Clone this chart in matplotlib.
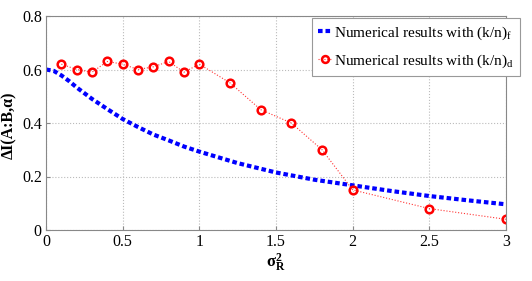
import numpy as np
import matplotlib.pyplot as plt

plt.rcParams['font.family'] = ['Liberation Serif', 'DejaVu Serif']
plt.rcParams['mathtext.fontset'] = 'custom'
plt.rcParams['mathtext.rm'] = 'Liberation Serif'
plt.rcParams['mathtext.bf'] = 'Liberation Serif:bold'
plt.rcParams['mathtext.it'] = 'Liberation Serif:italic'

# blue curve: (k/n)_f
x_f = [0, 0.05, 0.1, 0.15, 0.2, 0.3, 0.4, 0.5, 0.6, 0.7, 0.8, 0.9, 1.0,
       1.25, 1.5, 1.75, 2.0, 2.25, 2.5, 2.75, 3.0]
y_f = [0.60, 0.595, 0.578, 0.557, 0.533, 0.49, 0.452, 0.415, 0.385, 0.357, 0.335, 0.312, 0.293,
       0.25, 0.215, 0.188, 0.167, 0.146, 0.127, 0.111, 0.096]

# red markers: (k/n)_d
x_d = [0.1, 0.2, 0.3, 0.4, 0.5, 0.6, 0.7, 0.8, 0.9, 1.0, 1.2, 1.4, 1.6, 1.8, 2.0, 2.5, 3.0]
y_d = [0.62, 0.60, 0.59, 0.63, 0.62, 0.60, 0.61, 0.63, 0.59, 0.62, 0.55, 0.45, 0.40, 0.30, 0.15, 0.08, 0.04]

xticks = [0, 0.5, 1, 1.5, 2, 2.5, 3]
yticks = [0, 0.2, 0.4, 0.6, 0.8]

fig = plt.figure(figsize=(5.32, 2.81), dpi=100)
ax = fig.add_axes([46/532, 51/281, 460/532, 214/281])

ax.plot(x_f, y_f, color='#0000ff', lw=3, linestyle=(0, (1.1, 0.7)),
        label='Numerical results with (k/n)$_{\\mathrm{f}}$')
ax.plot(x_d, y_d, color='#ff3333', lw=0.8, linestyle=':', marker='o', ms=5.5,
        mfc='none', mec='#ff0000', mew=1.8,
        label='Numerical results with (k/n)$_{\\mathrm{d}}$')

ax.set_xlim(0, 3)
ax.set_ylim(0, 0.8)
ax.set_xticks(xticks)
ax.set_yticks(yticks)
ax.set_xticklabels([f'{t:g}' for t in xticks])
ax.set_yticklabels([f'{t:g}' for t in yticks])
ax.tick_params(direction='in', labelsize=11.5, length=3, color='#888888', pad=3)
ax.grid(True, linestyle=':', color='#bbbbbb', lw=0.8)
for s in ax.spines.values():
    s.set_color('#888888')

ax.set_xlabel('$\\mathbf{\\sigma_R^2}$', fontsize=12, labelpad=1)
ax.set_ylabel('ΔI(A:B,α)', fontsize=11.5, fontweight='bold')
ax.yaxis.set_label_coords(-0.062, 0.49)

leg = ax.legend(loc='upper left', bbox_to_anchor=(0.578, 0.99), fontsize=11,
                handlelength=0.9, handletextpad=0.15,
                borderpad=0.4, labelspacing=0.7, fancybox=False, framealpha=1,
                borderaxespad=0.0, markerscale=0.9)
leg.get_frame().set_edgecolor('#999999')
leg.get_frame().set_linewidth(0.8)

fig.savefig('out.png', dpi=100)
